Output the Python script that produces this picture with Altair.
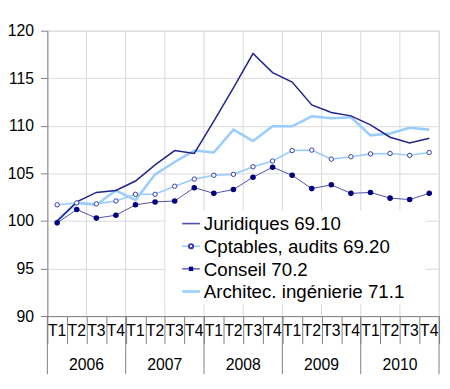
import altair as alt
import pandas as pd

years = ["2006", "2007", "2008", "2009", "2010"]
quarters = ["T1", "T2", "T3", "T4"]
series = ["Juridiques 69.10", "Cptables, audits 69.20", "Conseil 70.2", "Architec. ingénierie 71.1"]

juridiques = [100.0, 102.0, 103.0, 103.2, 104.2, 105.9, 107.4, 107.1, 110.5, 114.0,
              117.6, 115.6, 114.6, 112.2, 111.4, 111.05, 110.1, 108.8, 108.2, 108.7]
cptables = [101.7, 101.9, 101.8, 102.1, 102.8, 102.8, 103.65, 104.4, 104.8, 104.9,
            105.7, 106.3, 107.4, 107.45, 106.5, 106.75, 107.05, 107.1, 106.9, 107.2]
conseil = [99.8, 101.2, 100.3, 100.6, 101.7, 102.0, 102.1, 103.5, 102.9, 103.3,
           104.6, 105.65, 104.8, 103.4, 103.8, 102.9, 103.0, 102.4, 102.25, 102.9]
architec = [100.0, 101.9, 101.7, 103.2, 102.2, 104.9, 106.2, 107.4, 107.2, 109.6,
            108.4, 109.95, 109.95, 111.0, 110.8, 110.9, 109.0, 109.2, 109.8, 109.6]

W, H = 398, 290
FONT = "Liberation Sans"
n = len(years) * len(quarters)

values = [juridiques, cptables, conseil, architec]
rows = []
for s, vals in zip(series, values):
    for i, v in enumerate(vals):
        rows.append({"q": i + 0.5, "serie": s, "value": v})
df = pd.DataFrame(rows)

xs = alt.Scale(domain=[0, n], nice=False, zero=False)
ys = alt.Scale(domain=[90, 120], nice=False, zero=False)

xaxis = alt.Axis(values=list(range(0, n + 1)), labels=False, tickSize=28, grid=False, title=None,
                 domainColor="#808080", tickColor="#808080")
yaxis = alt.Axis(values=[90, 95, 100, 105, 110, 115, 120], grid=True, gridColor="#d9d9d9",
                 tickSize=7, labelFontSize=16, labelFont=FONT, labelColor="#000000", labelPadding=7,
                 domainColor="#808080", tickColor="#808080", title=None)

def X(field="q"):
    return alt.X(field + ":Q", scale=xs, axis=xaxis)

def Y():
    return alt.Y("value:Q", scale=ys, axis=yaxis)

# vertical gridlines every 2 quarters
grid_df = pd.DataFrame({"b": list(range(2, n + 1, 2)), "value": [90] * (n // 2), "top": [120] * (n // 2)})
vgrid = alt.Chart(grid_df).mark_rule(color="#d9d9d9", strokeWidth=1).encode(
    x=X("b"), y=Y(), y2="top:Q"
)

# year separators
ysep_df = pd.DataFrame({"b": list(range(0, n + 1, len(quarters)))})
ysep = alt.Chart(ysep_df).mark_rule(color="#808080", strokeWidth=1).encode(
    x=X("b"), y=alt.value(H), y2=alt.value(H + 59)
)

# quarter labels
ql_df = pd.DataFrame({"q": [i + 0.5 for i in range(n)],
                      "lab": [quarters[i % len(quarters)] for i in range(n)]})
qlab = alt.Chart(ql_df).mark_text(font=FONT, fontSize=16, color="#000000", baseline="middle").encode(
    x=X("q"), y=alt.value(H + 15), text="lab:N"
)
yl_df = pd.DataFrame({"q": [len(quarters) * i + len(quarters) / 2 for i in range(len(years))],
                      "lab": years})
ylab = alt.Chart(yl_df).mark_text(font=FONT, fontSize=16, color="#000000", baseline="middle").encode(
    x=X("q"), y=alt.value(H + 50), text="lab:N"
)

def sel(s):
    return alt.Chart(df).transform_filter(alt.datum.serie == s)

l_arch = sel(series[3]).mark_line(color="#99ccff", strokeWidth=2.6).encode(x=X(), y=Y())
l_jur = sel(series[0]).mark_line(color="#22228c", strokeWidth=1.5).encode(x=X(), y=Y())
l_cpt = sel(series[1]).mark_line(color="#99ccff", strokeWidth=1.6).encode(x=X(), y=Y())
p_cpt = sel(series[1]).mark_point(shape="circle", filled=False, fill="#ffffff", color="#3a3aaa",
                                  size=20, strokeWidth=1, opacity=1).encode(x=X(), y=Y())
l_con = sel(series[2]).mark_line(color="#5050a8", strokeWidth=1).encode(x=X(), y=Y())
p_con = sel(series[2]).mark_circle(color="#000080", size=32, opacity=1).encode(x=X(), y=Y())

# legend
leg_bg = alt.Chart(pd.DataFrame({"k": [0]})).mark_rect(fill="#ffffff").encode(
    x=alt.value(120), x2=alt.value(384), y=alt.value(183), y2=alt.value(278)
)
styles = [
    {"line": "#4d4dab", "w": 1.6, "pt": None},
    {"line": "#99ccff", "w": 1.6, "pt": "hollow"},
    {"line": "#3c3c9c", "w": 1.2, "pt": "filled"},
    {"line": "#99ccff", "w": 2.6, "pt": None},
]
legend_layers = [leg_bg]
for i, (s, st) in enumerate(zip(series, styles)):
    yy = 196 + 23 * i
    d = pd.DataFrame({"name": [s]})
    legend_layers.append(alt.Chart(d).mark_rule(color=st["line"], strokeWidth=st["w"]).encode(
        x=alt.value(137), x2=alt.value(155), y=alt.value(yy)))
    if st["pt"] == "hollow":
        legend_layers.append(alt.Chart(d).mark_point(shape="circle", filled=False, fill="#ffffff",
                                                     color="#3a3aaa", size=18, opacity=1).encode(
            x=alt.value(146), y=alt.value(yy)))
    elif st["pt"] == "filled":
        legend_layers.append(alt.Chart(d).mark_square(color="#000080", size=20, opacity=1).encode(
            x=alt.value(146), y=alt.value(yy)))
    legend_layers.append(alt.Chart(d).mark_text(font=FONT, fontSize=19, color="#000000", align="left",
                                                baseline="middle").encode(
        x=alt.value(159), y=alt.value(yy + 1), text="name:N"))

chart = alt.layer(
    vgrid, ysep, qlab, ylab, l_arch, l_jur, l_cpt, p_cpt, l_con, p_con, *legend_layers
).properties(
    width=W, height=H,
    autosize=alt.AutoSizeParams(type="none"),
    padding={"left": 40, "top": 20, "right": 3, "bottom": 70},
).configure_view(stroke=None).configure(background="#ffffff")

chart.save("out.html", embed_options={"renderer": "svg", "actions": False})
